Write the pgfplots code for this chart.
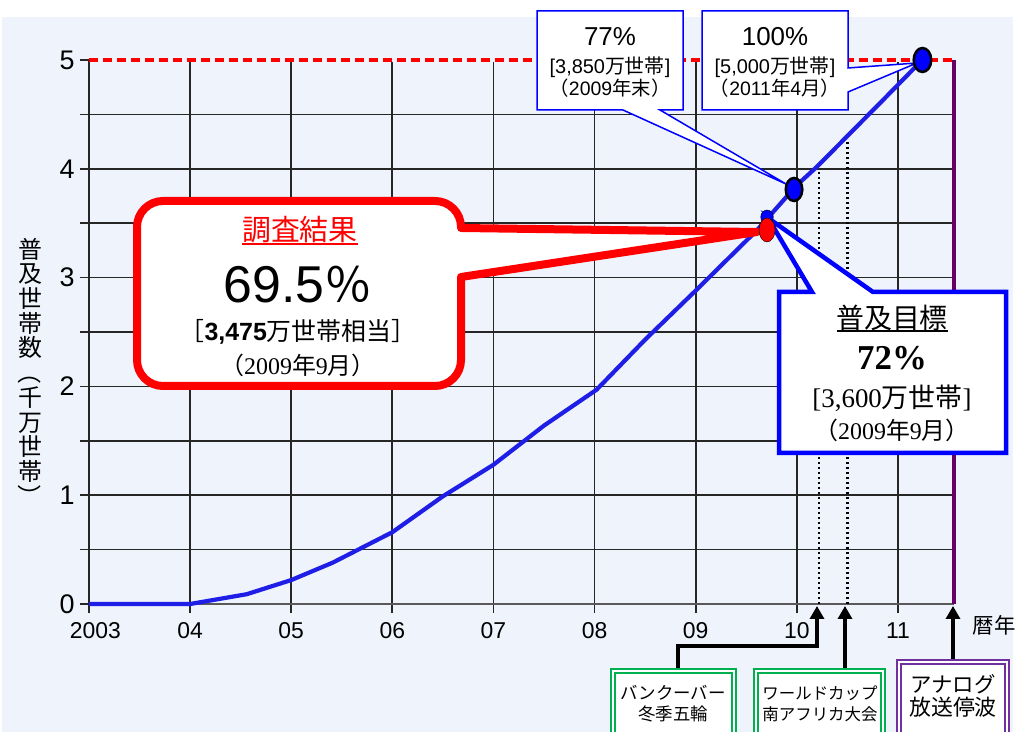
\documentclass[border=0pt]{standalone}
\usepackage{fontspec}
\usepackage{graphicx}
\setmainfont{Liberation Sans}
\newfontfamily\cjk{Noto Sans CJK JP}
\newfontfamily\serif{Liberation Serif}
\newfontfamily\lsans{Liberation Sans}
\usepackage{pgfplots}
\pgfplotsset{compat=1.18}
\usetikzlibrary{arrows.meta}
\definecolor{bg}{HTML}{EEF3FC}
\definecolor{cblue}{HTML}{1E1EE6}
\definecolor{purp}{HTML}{660066}
\definecolor{purb}{HTML}{7030A0}
\definecolor{grn}{HTML}{00B050}
\newcommand{\fs}[1]{\fontsize{#1}{#1}\selectfont}
\pgfplotsset{geom/.style={at={(89bp,128bp)}, anchor=south west, scale only axis,
  width=865bp, height=544bp, xmin=2003, xmax=2011.554, ymin=0, ymax=5, clip=false}}
\begin{document}
\begin{tikzpicture}
\useasboundingbox (0,0) rectangle (1016bp,732bp);
\clip (0,0) rectangle (1016bp,732bp);
\fill[white] (0,0) rectangle (1016bp,732bp);
\fill[bg] (2bp,0) rectangle (1013bp,715bp);
\begin{axis}[geom,
  axis lines=left,
  x axis line style={-, draw=black!65, line width=2bp},
  y axis line style={-, draw=black!85, line width=2bp},
  xtick={2003,...,2011}, xticklabels={\hphantom{0}2003,04,05,06,07,08,09,10,11},
  ytick={0,...,5}, yticklabels={0,1,2,3,4,5},
  minor ytick={0.5,1.5,...,4.5},
  grid=both,
  major grid style={draw=black!85, line width=1.7bp},
  minor grid style={draw=black!85, line width=1.7bp},
  tick style={draw=black!85, line width=1.7bp},
  tick align=outside, major tick length=9bp, minor tick length=9bp,
  /pgf/number format/assume math mode=true,
  xticklabel style={font=\fs{23}, yshift=-6bp},
  yticklabel style={font=\fs{27}, xshift=-2bp},
]
\addplot[bg, line width=4bp, forget plot] coordinates {(2003,5) (2011.554,5)};
\addplot[red, line width=4bp, dash pattern=on 9bp off 5bp] coordinates {(2003,5) (2011.554,5)};
\addplot[purp, line width=4bp] coordinates {(2011.554,0) (2011.554,5)};
\addplot[black, line width=2.2bp, dash pattern=on 2.2bp off 2.8bp] coordinates {(2010.22,0) (2010.22,3.98)};
\addplot[black, line width=2.2bp, dash pattern=on 2.2bp off 2.8bp] coordinates {(2010.50,0) (2010.50,4.25)};
\addplot[cblue, line width=4.2bp] coordinates {
(2003,0) (2004,0) (2004.56,0.09) (2005,0.22) (2005.41,0.38) (2006,0.66) (2006.5,0.99)
(2007,1.28) (2007.5,1.64) (2008.02,1.97) (2008.5,2.43) (2009.01,2.89) (2009.61,3.44)
(2010,3.85) (2010.2,4.02) (2010.85,4.63) (2011.24,5.0)};
\end{axis}

\begin{scope}[x=1bp, y=-1bp, shift={(0,732bp)}]
% y axis label
\node[font=\cjk\fontsize{24}{24.8}\selectfont, align=center, inner sep=0] at (30,373)
 {普\\及\\世\\帯\\数\\\rotatebox[origin=c]{-90}{（}\\千\\万\\世\\帯\\\rotatebox[origin=c]{-90}{）}};
\node[font=\cjk\fs{21.5}] at (994,625) {暦年};

% red callout
\draw[red, line width=8bp, fill=white, line join=round]
 (300,201) [rounded corners=26bp] -- (461,201) [sharp corners] -- (461,228) -- (757,232) -- (461,277)
 [rounded corners=26bp] -- (461,386) -- (137,386) -- (137,201) -- (300,201);
\node[red, font=\cjk\fs{29}] at (300,230) {調査結果};
\draw[red, line width=2bp] (242,244) -- (358,244);
\node[font=\fs{52}, inner sep=0] at (298,285) {69.5{\cjk\fs{48}％}};
\node[font=\cjk\fs{25}, inner sep=0] at (298,332) {［{\lsans\bfseries 3,475}万世帯相当］};
\node[font=\cjk\fs{24}, inner sep=0] at (298,365) {（{\serif 2009}年{\serif 9}月）};

% blue 72% callout
\draw[blue, line width=4.5bp, fill=white] (812,292) -- (768,218) -- (873,292) -- (1006,292) -- (1006,453) -- (779,453) -- (779,292) -- cycle;
\node[font=\cjk\fs{28}] at (892,318) {普及目標};
\draw[black, line width=1.5bp] (837,331) -- (948,331);
\node[font=\serif\bfseries\fs{35}] at (892,358) {72\%};
\node[font=\cjk\fs{27}] at (892,398) {{\serif {[}3,600}万世帯{\serif {]}}};
\node[font=\cjk\fs{24}] at (892,430) {（{\serif 2009}年{\serif 9}月）};

% 77% box
\draw[blue, line width=1.5bp, fill=white] (537,11) -- (683,11) -- (683,110) -- (660,110) -- (786,184) -- (623,110) -- (537,110) -- cycle;
\node[font=\fs{26}] at (610,37) {77\%};
\node[font=\cjk\fs{20}] at (610,67) {{\lsans {[}3,850}万世帯{\lsans {]}}};
\node[font=\cjk\fs{19.5}] at (610,88) {（{\lsans 2009}年末）};

% 100% box
\draw[blue, line width=1.5bp, fill=white] (702,11) -- (848,11) -- (848,68) -- (917,63) -- (848,92) -- (848,110) -- (702,110) -- cycle;
\node[font=\fs{26}] at (775,37) {100\%};
\node[font=\cjk\fs{20}] at (775,67) {{\lsans {[}5,000}万世帯{\lsans {]}}};
\node[font=\cjk\fs{19.5}] at (775,88) {（{\lsans 2011}年{\lsans 4}月）};

% arrows
\draw[black, line width=4bp, -{Triangle[width=14bp,length=13bp]}] (678,669) -- (678,646) -- (817,646) -- (817,606);
\draw[black, line width=4bp, -{Triangle[width=14bp,length=13bp]}] (845,669) -- (845,606);
\draw[black, line width=4bp, -{Triangle[width=14bp,length=13bp]}] (953,660) -- (953,606);

% bottom boxes
\draw[grn, line width=2bp, fill=white] (611,669) rectangle (736,745);
\draw[grn, line width=2bp] (615,673) rectangle (732,745);
\node[font=\cjk\fs{17.5}, inner sep=0] at (673,693) {バンクーバー};
\node[font=\cjk\fs{17.5}, inner sep=0] at (673,714) {冬季五輪};
\draw[grn, line width=2bp, fill=white] (754,669) rectangle (885,745);
\draw[grn, line width=2bp] (758,673) rectangle (881,745);
\node[font=\cjk\fs{16.5}, inner sep=0] at (820,693) {ワールドカップ};
\node[font=\cjk\fs{16.5}, inner sep=0] at (820,714) {南アフリカ大会};
\draw[purb, line width=2bp, fill=white] (897,660) rectangle (1009,745);
\draw[purb, line width=2bp] (901,664) rectangle (1005,745);
\node[font=\cjk\fs{21.5}, inner sep=0] at (953,684) {アナログ};
\node[font=\cjk\fs{22}, inner sep=0] at (953,707) {放送停波};
\end{scope}

\begin{axis}[geom, hide axis]
\addplot[only marks, mark=*, mark size=7bp, mark options={fill=blue, draw=none, xscale=0.9}] coordinates {(2009.705,3.557)};
\addplot[only marks, mark=*, mark size=12bp, mark options={fill=red, draw=none, xscale=0.67}] coordinates {(2009.705,3.4375)};
\addplot[only marks, mark=*, mark size=11.5bp, mark options={fill=blue, draw=black, line width=2.5bp, xscale=0.72}] coordinates {(2009.972,3.81)};
\addplot[only marks, mark=*, mark size=12bp, mark options={fill=blue, draw=black, line width=2.5bp, xscale=0.73}] coordinates {(2011.242,5.0)};
\end{axis}
\end{tikzpicture}
\end{document}
